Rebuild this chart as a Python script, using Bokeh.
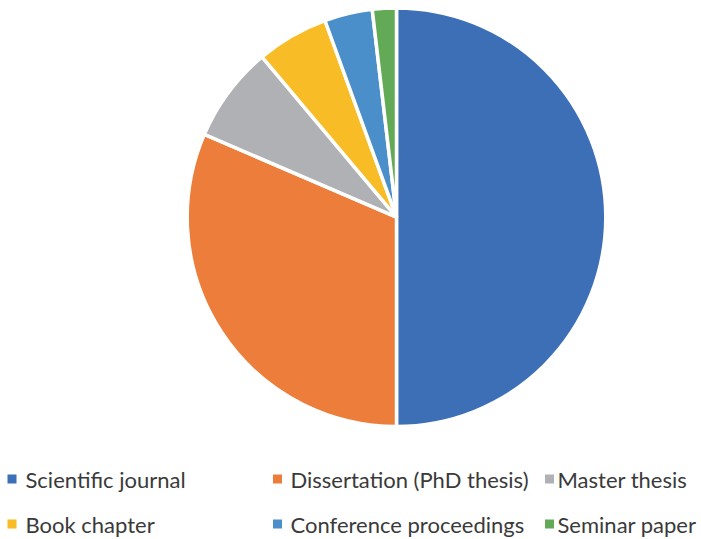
import numpy as np
from bokeh.plotting import figure
from bokeh.models import Range1d, ColumnDataSource
from bokeh.core.properties import value
from bokeh.embed import file_html
from bokeh.resources import INLINE

# Publication types and their counts
categories = ["Scientific journal", "Dissertation (PhD thesis)", "Master thesis",
              "Book chapter", "Conference proceedings", "Seminar paper"]
counts = [27, 17, 4, 3, 2, 1]
colors = ["#3D6FB7", "#EC7D3A", "#B0B1B4", "#F8BC26", "#4A8FC9", "#62AA56"]

W, H = 701, 539
p = figure(width=W, height=H, output_backend="svg", toolbar_location=None,
           x_range=Range1d(0, W), y_range=Range1d(0, H), min_border=0)
p.axis.visible = False
p.grid.visible = False
p.outline_line_color = None
p.background_fill_color = "white"

# Slices run clockwise from 12 o'clock
frac = np.array(counts, dtype=float) / sum(counts)
cum = np.concatenate([[0.0], np.cumsum(frac)])
start = np.pi / 2 - 2 * np.pi * cum[1:]
end = np.pi / 2 - 2 * np.pi * cum[:-1]

cx, cy, r = 396.0, H - 216.7, 209.3
pie = ColumnDataSource(dict(start=start, end=end, color=colors))
p.wedge(x=cx, y=cy, radius=r, start_angle="start", end_angle="end",
        fill_color="color", line_color="white", line_width=3.5, source=pie)

# Legend: three columns, two rows
col_sq = [11.5, 277.0, 549.0]
col_tx = [25.0, 290.0, 557.0]
row_mid = [H - 478.5, H - 523.5]
lx, ly, tx, ty = [], [], [], []
for i in range(len(categories)):
    rr, cc = divmod(i, 3)
    lx.append(col_sq[cc]); ly.append(row_mid[rr])
    tx.append(col_tx[cc]); ty.append(row_mid[rr])

leg = ColumnDataSource(dict(lx=lx, ly=ly, tx=tx, ty=ty, label=categories, color=colors))
p.scatter(x="lx", y="ly", marker="square", size=9, fill_color="color",
          line_color=None, source=leg)
p.text(x="tx", y="ty", text="label", source=leg, text_font=value("Lato"),
       text_font_size="22px", text_color="#3A3A3A", text_baseline="middle",
       text_align="left")

open("out.html", "w").write(file_html(p, INLINE))
